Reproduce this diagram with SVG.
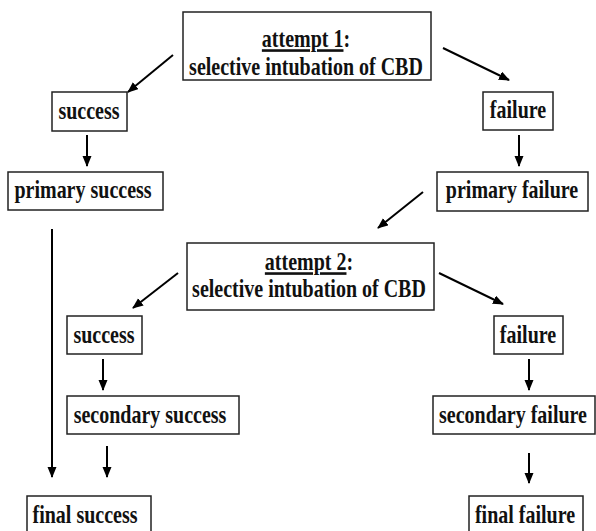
<svg xmlns="http://www.w3.org/2000/svg" width="596" height="531" viewBox="0 0 596 531">
<defs>
<marker id="ah" markerUnits="userSpaceOnUse" markerWidth="12" markerHeight="10" refX="10" refY="4.5" orient="auto">
<path d="M0,0 L11,4.5 L0,9 z" fill="#000"/>
</marker>
<style>
rect{fill:#fff;stroke:#222;stroke-width:1.5}
text{font-weight:bold;font-size:20px;fill:#111;text-anchor:middle}
.c line{stroke:#000;stroke-width:2;marker-end:url(#ah)}
</style>
</defs>
<rect x="0" y="0" width="596" height="531" style="fill:#fff;stroke:none"/>
<g font-family="Liberation Serif, Times New Roman, serif">
<g id="attempt1">
<rect x="183" y="12" width="248" height="68"/>
<text transform="translate(306,47) scale(1,1.3)"><tspan text-decoration="underline">attempt 1</tspan>:</text>
<text transform="translate(306,75) scale(1,1.3)">selective intubation of CBD</text>
</g>
<g id="success1">
<rect x="52" y="92" width="75" height="39"/>
<text transform="translate(89,119) scale(1,1.3)">success</text>
</g>
<g id="failure1">
<rect x="483" y="92" width="70" height="38"/>
<text transform="translate(518,118) scale(1,1.3)">failure</text>
</g>
<g id="primarySuccess">
<rect x="8" y="172" width="155" height="38"/>
<text transform="translate(83,198) scale(1,1.3)">primary success</text>
</g>
<g id="primaryFailure">
<rect x="437" y="172" width="151" height="39"/>
<text transform="translate(512,198) scale(1,1.3)">primary failure</text>
</g>
<g id="attempt2">
<rect x="187" y="243" width="247" height="67"/>
<text transform="translate(309,270) scale(1,1.3)"><tspan text-decoration="underline">attempt 2</tspan>:</text>
<text transform="translate(309,297) scale(1,1.3)">selective intubation of CBD</text>
</g>
<g id="success2">
<rect x="67" y="316" width="75" height="38"/>
<text transform="translate(104,343) scale(1,1.3)">success</text>
</g>
<g id="failure2">
<rect x="494" y="316" width="69" height="38"/>
<text transform="translate(528,343) scale(1,1.3)">failure</text>
</g>
<g id="secondarySuccess">
<rect x="67" y="396" width="172" height="38"/>
<text transform="translate(150,423) scale(1,1.3)">secondary success</text>
</g>
<g id="secondaryFailure">
<rect x="433" y="396" width="162" height="38"/>
<text transform="translate(513,423) scale(1,1.3)">secondary failure</text>
</g>
<g id="finalSuccess">
<rect x="27" y="496" width="124" height="40"/>
<text transform="translate(85,523) scale(1,1.3)">final success</text>
</g>
<g id="finalFailure">
<rect x="469" y="496" width="114" height="40"/>
<text transform="translate(525,523) scale(1,1.3)">final failure</text>
</g>
</g>
<g id="connectors" class="c">
<line x1="173" y1="55" x2="128" y2="92"/>
<line x1="443" y1="48" x2="509" y2="80"/>
<line x1="87" y1="135" x2="87" y2="166"/>
<line x1="519" y1="135" x2="519" y2="166"/>
<line x1="423" y1="192" x2="378" y2="228"/>
<line x1="52" y1="229" x2="52" y2="477"/>
<line x1="178" y1="273" x2="133" y2="308"/>
<line x1="439" y1="273" x2="503" y2="304"/>
<line x1="103" y1="359" x2="103" y2="390"/>
<line x1="529" y1="359" x2="529" y2="390"/>
<line x1="107" y1="446" x2="107" y2="477"/>
<line x1="529" y1="453" x2="529" y2="483"/>
</g>
</svg>
